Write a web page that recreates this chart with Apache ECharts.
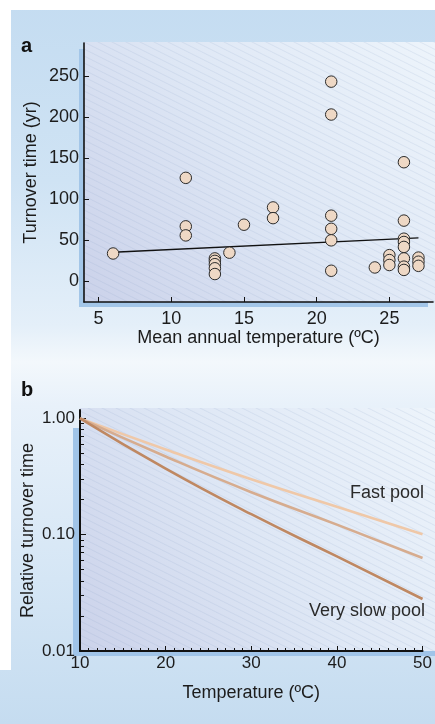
<!DOCTYPE html>
<html>
<head>
<meta charset="utf-8">
<script src="https://cdn.jsdelivr.net/npm/echarts@6.0.0/dist/echarts.min.js"></script>
<style>
  html, body { margin: 0; padding: 0; background: #fff; }
  #box { width: 435px; height: 724px; }
</style>
</head>
<body>
<div id="box"></div>
<script>
// panel a: mean annual temperature (C) vs turnover time (yr)
var aTemp     = [6, 11, 11, 11, 13, 13, 13, 13, 13, 14, 15, 17, 17, 21, 21, 21, 21, 21, 21,
                 24, 25, 25, 25, 26, 26, 26, 26, 26, 26, 26, 26, 27, 27, 27];
var aTurnover = [34, 126, 67, 56, 28, 25, 21, 16, 9, 35, 69, 90, 77, 243, 203, 80, 64, 50, 13,
                 17, 32, 26, 20, 145, 74, 52, 48, 42, 28, 18, 14, 29, 24, 19];
var aFitTemp = [6, 27];
var aFitTime = [35.5, 53];
var aXTicks = [5, 10, 15, 20, 25];
var aYTicks = [0, 50, 100, 150, 200, 250];

// panel b: relative turnover time vs temperature
var bTemp = [10, 20, 30, 40, 50];
var fastPool     = [1, 0.54, 0.30, 0.174, 0.101];
var slowPool     = [1, 0.47, 0.232, 0.122, 0.063];
var verySlowPool = [1, 0.37, 0.15, 0.065, 0.028];
var bYTicks = [0.01, 0.1, 1];
var bYMinor = [0.02, 0.03, 0.04, 0.05, 0.06, 0.07, 0.08, 0.09,
               0.2, 0.3, 0.4, 0.5, 0.6, 0.7, 0.8, 0.9];

function zip(xs, ys) {
	return xs.map(function(x, i) { return [x, ys[i]]; });
}

var font = '"Liberation Sans", Arial, Helvetica, sans-serif';
var ink = '#1c1c1c';

// hatch pattern for the plot backgrounds
var hatch = document.createElement('canvas');
hatch.width = 14;
hatch.height = 7;
var hctx = hatch.getContext('2d');
hctx.strokeStyle = 'rgba(130,150,190,0.16)';
hctx.lineWidth = 1;
hctx.beginPath();
[-7, 0, 7].forEach(function(k) {
	hctx.moveTo(0, k);
	hctx.lineTo(14, k + 7);
});
hctx.stroke();

function plotGradient() {
	return new echarts.graphic.LinearGradient(0, 1, 1, 0, [
		{ offset: 0, color: '#cbd2ea' },
		{ offset: 0.5, color: '#dee7f5' },
		{ offset: 1, color: '#edf4fb' }
	]);
}

var chart = echarts.init(document.getElementById('box'));

var option = {
	animation: false,
	backgroundColor: new echarts.graphic.LinearGradient(0, 0, 0, 1, [
		{ offset: 0, color: '#c4dcf1' },
		{ offset: 0.25, color: '#cfe3f4' },
		{ offset: 0.45, color: '#e4eff9' },
		{ offset: 0.5, color: '#f3f8fc' },
		{ offset: 0.56, color: '#e8f1fa' },
		{ offset: 0.8, color: '#d5e6f5' },
		{ offset: 1, color: '#c5dcf0' }
	]),
	graphic: [
		// white margins of the scan
		{ type: 'rect', z: -20, shape: { x: 0, y: 0, width: 435, height: 10 }, style: { fill: '#fff' } },
		{ type: 'rect', z: -20, shape: { x: 0, y: 0, width: 11, height: 670 }, style: { fill: '#fff' } },
		// panel a plot area
		{ type: 'rect', z: -10, shape: { x: 84, y: 42, width: 351, height: 260 }, style: { fill: plotGradient() } },
		{ type: 'rect', z: -9, shape: { x: 84, y: 42, width: 351, height: 260 }, style: { fill: { image: hatch, repeat: 'repeat' } } },
		{ type: 'rect', z: -8, shape: { x: 79, y: 49, width: 5, height: 258 }, style: { fill: '#a3c6e8' } },
		{ type: 'rect', z: -8, shape: { x: 79, y: 302, width: 349, height: 5 }, style: { fill: '#a3c6e8' } },
		// panel b plot area
		{ type: 'rect', z: -10, shape: { x: 80, y: 408, width: 355, height: 243 }, style: { fill: plotGradient() } },
		{ type: 'rect', z: -9, shape: { x: 80, y: 408, width: 355, height: 243 }, style: { fill: { image: hatch, repeat: 'repeat' } } },
		{ type: 'rect', z: -8, shape: { x: 73, y: 428, width: 7, height: 228 }, style: { fill: '#a0c4e8' } },
		{ type: 'rect', z: -8, shape: { x: 73, y: 651, width: 362, height: 5 }, style: { fill: '#a0c4e8' } },
		// panel letters
		{ type: 'text', left: 21, top: 36, style: { text: 'a', font: 'bold 20px ' + font, fill: '#111' } },
		{ type: 'text', left: 21, top: 380, style: { text: 'b', font: 'bold 20px ' + font, fill: '#111' } },
		// curve labels
		{ type: 'text', right: 11, top: 484, style: { text: 'Fast pool', font: '18px ' + font, fill: '#2a2a2a' } },
		{ type: 'text', right: 10, top: 602, style: { text: 'Very slow pool', font: '18px ' + font, fill: '#2a2a2a' } }
	],
	grid: [
		{ left: 84, top: 43, right: 2, bottom: 422 },
		{ left: 80, top: 410, right: 2, bottom: 73 },
		{ left: 80, top: 410, right: 2, bottom: 73 }
	],
	xAxis: [
		{
			gridIndex: 0, type: 'value', min: 4, max: 28, interval: 1,
			name: 'Mean annual temperature (ºC)', nameLocation: 'middle', nameGap: 27, nameMoveOverlap: false,
			nameTextStyle: { fontFamily: font, fontSize: 18, color: ink },
			axisLine: { onZero: false, lineStyle: { color: '#111', width: 1.6 } },
			axisTick: { inside: true, length: 5, lineStyle: { color: '#111' }, customValues: aXTicks },
			axisLabel: { customValues: aXTicks, margin: 8, fontFamily: font, fontSize: 18, color: ink },
			splitLine: { show: false }
		},
		{
			gridIndex: 1, type: 'value', min: 10, max: 50, interval: 10,
			name: 'Temperature (ºC)', nameLocation: 'middle', nameGap: 33, nameMoveOverlap: false,
			nameTextStyle: { fontFamily: font, fontSize: 18, color: ink },
			axisLine: { onZero: false, lineStyle: { color: '#111', width: 2 } },
			axisTick: { inside: true, length: 5, lineStyle: { color: '#111' } },
			minorTick: { show: true, splitNumber: 10, length: 3, lineStyle: { color: '#111' } },
			axisLabel: { margin: 4, fontFamily: font, fontSize: 17, color: ink, showMaxLabel: true },
			splitLine: { show: false }
		},
		{ gridIndex: 2, type: 'value', min: 10, max: 50, show: false }
	],
	yAxis: [
		{
			gridIndex: 0, type: 'value', min: -25, max: 290,
			name: 'Turnover time (yr)', nameLocation: 'middle', nameGap: 44, nameMoveOverlap: false,
			nameTextStyle: { fontFamily: font, fontSize: 18, color: ink },
			axisLine: { show: true, onZero: false, lineStyle: { color: '#111', width: 1.6 } },
			axisTick: { show: true, inside: true, length: 5, lineStyle: { color: '#111' }, customValues: aYTicks },
			axisLabel: { customValues: aYTicks, margin: 5, fontFamily: font, fontSize: 18, color: ink },
			splitLine: { show: false }
		},
		{
			gridIndex: 1, type: 'log', logBase: 10, min: 0.01, max: 1.18,
			name: 'Relative turnover time', nameLocation: 'middle', nameGap: 43, nameMoveOverlap: false,
			nameTextStyle: { fontFamily: font, fontSize: 18, color: ink },
			axisLine: { show: true, onZero: false, lineStyle: { color: '#111', width: 2 } },
			axisTick: { show: true, inside: true, length: 6, lineStyle: { color: '#111' }, customValues: bYTicks },
			axisLabel: {
				customValues: bYTicks, margin: 5, fontFamily: font, fontSize: 17, color: ink,
				formatter: function(v) { return Number(v).toFixed(2); }
			},
			splitLine: { show: false }
		},
		{
			gridIndex: 2, type: 'log', logBase: 10, min: 0.01, max: 1.18,
			axisLine: { show: false },
			axisTick: { show: true, inside: true, length: 4, lineStyle: { color: '#111' }, customValues: bYMinor },
			axisLabel: { show: false },
			splitLine: { show: false }
		}
	],
	series: [
		{
			name: 'Fit', type: 'line', xAxisIndex: 0, yAxisIndex: 0,
			data: zip(aFitTemp, aFitTime), symbol: 'none', silent: true,
			lineStyle: { color: '#111', width: 1.3 }, z: 2
		},
		{
			name: 'Sites', type: 'scatter', xAxisIndex: 0, yAxisIndex: 0,
			data: zip(aTemp, aTurnover), symbolSize: 11.5,
			itemStyle: { color: '#eed8c5', borderColor: '#2b2b2b', borderWidth: 1, opacity: 1 }, z: 3
		},
		{
			name: 'Fast pool', type: 'line', xAxisIndex: 1, yAxisIndex: 1,
			data: zip(bTemp, fastPool), smooth: true, symbol: 'none',
			lineStyle: { color: '#efc8a8', width: 2.6 }
		},
		{
			name: 'Slow pool', type: 'line', xAxisIndex: 1, yAxisIndex: 1,
			data: zip(bTemp, slowPool), smooth: true, symbol: 'none',
			lineStyle: { color: '#d6ac8f', width: 2.6 }
		},
		{
			name: 'Very slow pool', type: 'line', xAxisIndex: 1, yAxisIndex: 1,
			data: zip(bTemp, verySlowPool), smooth: true, symbol: 'none',
			lineStyle: { color: '#bf8862', width: 2.6 }
		}
	]
};

chart.setOption(option);
</script>
</body>
</html>
